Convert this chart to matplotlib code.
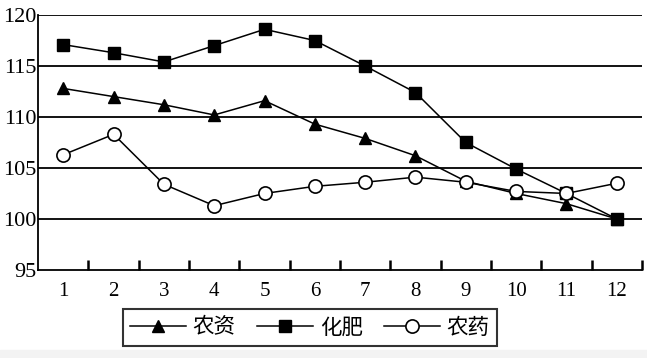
import matplotlib
matplotlib.use("Agg")
import matplotlib.pyplot as plt
from matplotlib.patches import Rectangle

months = list(range(1, 13))
nongzi = [112.8, 112.0, 111.2, 110.2, 111.6, 109.3, 107.9, 106.2, 103.7, 102.5, 101.5, 100.0]
huafei = [117.1, 116.3, 115.4, 117.0, 118.6, 117.5, 115.0, 112.4, 107.5, 104.9, 102.5, 100.0]
nongyao = [106.3, 108.3, 103.4, 101.3, 102.5, 103.2, 103.6, 104.1, 103.6, 102.7, 102.5, 103.5]
labels = ['农资', '化肥', '农药']
y_ticks = [95, 100, 105, 110, 115, 120]

fig = plt.figure(figsize=(6.47, 3.58), dpi=100, facecolor='white')
ax = fig.add_axes([0.059, 0.246, 0.933, 0.712])

# grid lines drawn as black horizontal rules
ax.set_axisbelow(True)
for v in y_ticks[1:]:
    ax.axhline(v, color='black', lw=1.3, zorder=0)

l1, = ax.plot(months, nongzi, color='black', lw=1.1, marker='^', ms=9,
              mfc='black', mec='black', zorder=3)
l2, = ax.plot(months, huafei, color='black', lw=1.1, marker='s', ms=9,
              mfc='black', mec='black', zorder=3)
l3, = ax.plot(months, nongyao, color='black', lw=1.1, marker='o', ms=9.5,
              mfc='white', mec='black', mew=1.2, zorder=3)

ax.set_xlim(0.5, 12.5)
ax.set_ylim(95, 120)

# remove spines
ax.spines['right'].set_visible(False)
ax.spines['top'].set_visible(False)
ax.spines['left'].set_linewidth(1.3)
ax.spines['bottom'].set_linewidth(1.3)

ax.set_xticks(months)
ax.set_xticks([m + 0.5 for m in months], minor=True)
ax.set_yticks(y_ticks)
ax.tick_params(axis='x', which='major', length=0, pad=9, labelsize=15)
ax.tick_params(axis='x', which='minor', direction='in', length=7, width=1.8)
ax.tick_params(axis='y', length=0, pad=1, labelsize=16)
for t in ax.get_xticklabels() + ax.get_yticklabels():
    t.set_fontfamily('Liberation Serif')

leg = fig.legend([l1, l2, l3], labels, loc='center', bbox_to_anchor=(0.479, 0.085),
                 ncol=3, frameon=True, fancybox=False, edgecolor='black',
                 handlelength=2.6, handletextpad=0.3, columnspacing=1.0,
                 borderpad=0.35, prop={'family': ['Noto Sans CJK SC'], 'size': 15.5})
leg.get_frame().set_linewidth(1.5)

# faint strip at the bottom of the image
fig.patches.append(Rectangle((0, 0), 1, 8 / 358, transform=fig.transFigure,
                             color='#f3f3f3', zorder=-1))

fig.savefig('out.png', dpi=100, facecolor='white')
